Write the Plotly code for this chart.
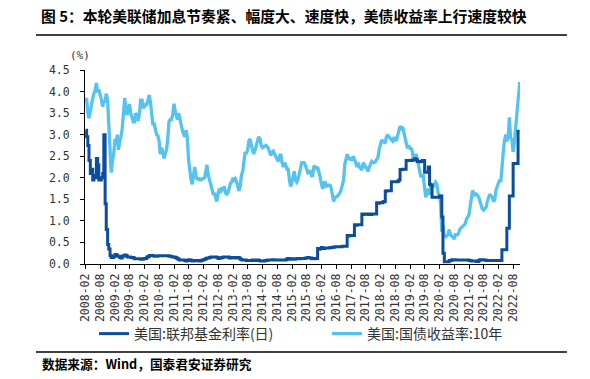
import pandas as pd
import plotly.graph_objects as go

# semi-monthly observation dates (1st and 15th of each month) + last observation
dates = [d.strftime("%Y-%m-%d") for d in pd.date_range("2008-02-01", "2022-10-15", freq="SMS")]
dates.append("2022-10-21")

# US 10Y Treasury yield (%)
y10_2008 = [3.75, 3.85, 3.50, 3.38, 3.55, 3.75, 3.85, 3.95, 4.05, 4.20, 3.98, 4.05, 3.95, 3.82, 3.65, 3.80, 3.75, 3.95, 3.80, 3.30, 2.70, 2.12]
y10_2009 = [2.40, 2.55, 2.90, 2.80, 3.00, 2.65, 2.85, 2.95, 3.15, 3.45, 3.85, 3.60, 3.45, 3.65, 3.70, 3.50, 3.40, 3.30, 3.30, 3.50, 3.45, 3.32, 3.50, 3.80]
y10_2010 = [3.80, 3.62, 3.65, 3.70, 3.70, 3.80, 3.92, 3.75, 3.50, 3.25, 3.25, 3.15, 3.00, 2.98, 2.85, 2.55, 2.70, 2.60, 2.45, 2.55, 2.65, 2.90, 3.30, 3.35]
y10_2011 = [3.35, 3.45, 3.72, 3.55, 3.45, 3.35, 3.50, 3.35, 3.20, 3.10, 3.00, 2.95, 3.10, 2.95, 2.40, 2.15, 1.95, 1.85, 2.05, 2.25, 2.05, 1.95, 2.00, 1.95]
y10_2012 = [1.95, 1.98, 1.98, 2.00, 2.15, 2.30, 2.05, 1.98, 1.85, 1.75, 1.60, 1.65, 1.55, 1.45, 1.65, 1.75, 1.65, 1.78, 1.70, 1.80, 1.65, 1.62, 1.65, 1.78]
y10_2013 = [1.88, 1.90, 2.00, 1.95, 1.98, 1.92, 1.78, 1.70, 1.80, 2.05, 2.15, 2.45, 2.60, 2.55, 2.65, 2.85, 2.90, 2.75, 2.65, 2.55, 2.65, 2.75, 2.85, 2.95]
y10_2014 = [2.90, 2.75, 2.70, 2.72, 2.72, 2.75, 2.72, 2.68, 2.58, 2.52, 2.60, 2.62, 2.55, 2.50, 2.45, 2.38, 2.50, 2.55, 2.35, 2.25, 2.35, 2.30, 2.20, 2.20]
y10_2015 = [1.95, 1.80, 1.90, 2.08, 2.15, 1.95, 1.90, 1.95, 2.15, 2.20, 2.35, 2.35, 2.35, 2.30, 2.20, 2.12, 2.15, 2.15, 2.05, 2.05, 2.28, 2.25, 2.22, 2.25]
y10_2016 = [2.15, 2.02, 1.85, 1.75, 1.85, 1.92, 1.78, 1.85, 1.80, 1.85, 1.75, 1.58, 1.45, 1.55, 1.55, 1.57, 1.60, 1.65, 1.72, 1.80, 1.95, 2.30, 2.40, 2.55]
y10_2017 = [2.42, 2.45, 2.42, 2.42, 2.50, 2.45, 2.35, 2.25, 2.35, 2.25, 2.20, 2.18, 2.35, 2.30, 2.25, 2.18, 2.15, 2.25, 2.35, 2.38, 2.35, 2.35, 2.38, 2.42]
y10_2018 = [2.48, 2.65, 2.80, 2.88, 2.85, 2.82, 2.80, 2.95, 3.00, 2.95, 2.92, 2.88, 2.85, 2.92, 2.92, 2.85, 2.95, 3.08, 3.20, 3.15, 3.18, 3.05, 2.92, 2.75]
y10_2019 = [2.68, 2.75, 2.68, 2.68, 2.62, 2.42, 2.52, 2.55, 2.45, 2.30, 2.10, 2.02, 2.05, 2.05, 1.75, 1.55, 1.65, 1.75, 1.60, 1.78, 1.85, 1.78, 1.85, 1.90]
y10_2020 = [1.85, 1.65, 1.60, 1.40, 0.75, 0.90, 0.65, 0.63, 0.65, 0.68, 0.80, 0.68, 0.65, 0.60, 0.58, 0.68, 0.68, 0.68, 0.75, 0.82, 0.85, 0.88, 0.92, 0.93]
y10_2021 = [1.05, 1.08, 1.15, 1.38, 1.55, 1.70, 1.65, 1.58, 1.62, 1.60, 1.55, 1.48, 1.35, 1.28, 1.25, 1.30, 1.32, 1.45, 1.55, 1.62, 1.58, 1.55, 1.45, 1.48]
y10_2022 = [1.72, 1.80, 1.92, 1.95, 1.90, 2.30, 2.60, 2.85, 3.00, 2.85, 2.95, 3.40, 2.90, 2.92, 2.60, 2.80, 3.25, 3.45, 3.80, 4.05, 4.22]

# US effective federal funds rate (%)
ff_2008 = [3.10, 2.95, 2.75, 2.40, 2.10, 2.20, 1.95, 2.05, 2.00, 2.45, 2.30, 1.95, 1.95, 2.00, 2.10, 3.00, 1.40, 0.80, 0.45, 0.35, 0.20, 0.15]
ff_2009 = [0.15, 0.18, 0.22, 0.21, 0.18, 0.18, 0.15, 0.14, 0.18, 0.19, 0.21, 0.20, 0.16, 0.16, 0.16, 0.15, 0.15, 0.14, 0.12, 0.12, 0.12, 0.12, 0.12, 0.11]
ff_2010 = [0.11, 0.12, 0.13, 0.13, 0.16, 0.17, 0.20, 0.20, 0.20, 0.19, 0.18, 0.18, 0.18, 0.19, 0.19, 0.19, 0.19, 0.19, 0.19, 0.19, 0.19, 0.19, 0.18, 0.18]
ff_2011 = [0.17, 0.16, 0.16, 0.15, 0.14, 0.12, 0.10, 0.09, 0.09, 0.09, 0.09, 0.08, 0.07, 0.08, 0.10, 0.09, 0.08, 0.07, 0.07, 0.08, 0.08, 0.08, 0.07, 0.07]
ff_2012 = [0.08, 0.09, 0.10, 0.11, 0.13, 0.14, 0.14, 0.15, 0.16, 0.16, 0.16, 0.16, 0.16, 0.15, 0.13, 0.14, 0.14, 0.15, 0.16, 0.16, 0.16, 0.16, 0.16, 0.14]
ff_2013 = [0.14, 0.15, 0.15, 0.15, 0.14, 0.14, 0.15, 0.14, 0.11, 0.10, 0.09, 0.09, 0.09, 0.08, 0.08, 0.08, 0.08, 0.08, 0.09, 0.09, 0.08, 0.08, 0.09, 0.08]
ff_2014 = [0.07, 0.07, 0.07, 0.07, 0.08, 0.08, 0.09, 0.09, 0.09, 0.09, 0.10, 0.10, 0.09, 0.09, 0.09, 0.09, 0.09, 0.09, 0.09, 0.09, 0.09, 0.10, 0.12, 0.13]
ff_2015 = [0.11, 0.12, 0.11, 0.12, 0.11, 0.12, 0.12, 0.13, 0.12, 0.13, 0.13, 0.13, 0.13, 0.14, 0.14, 0.15, 0.14, 0.14, 0.12, 0.13, 0.12, 0.13, 0.13, 0.36]
ff_2016 = [0.34, 0.36, 0.38, 0.37, 0.36, 0.37, 0.37, 0.37, 0.37, 0.38, 0.38, 0.39, 0.39, 0.40, 0.40, 0.40, 0.40, 0.40, 0.40, 0.41, 0.41, 0.41, 0.41, 0.66]
ff_2017 = [0.65, 0.66, 0.66, 0.66, 0.66, 0.91, 0.90, 0.91, 0.91, 0.91, 0.91, 1.16, 1.15, 1.16, 1.16, 1.16, 1.15, 1.16, 1.15, 1.16, 1.16, 1.16, 1.16, 1.42]
ff_2018 = [1.41, 1.42, 1.42, 1.42, 1.44, 1.45, 1.69, 1.70, 1.70, 1.70, 1.70, 1.91, 1.91, 1.91, 1.91, 1.91, 1.92, 1.95, 2.19, 2.19, 2.20, 2.20, 2.20, 2.40]
ff_2019 = [2.40, 2.40, 2.40, 2.40, 2.41, 2.41, 2.44, 2.42, 2.38, 2.38, 2.37, 2.38, 2.40, 2.40, 2.13, 2.13, 2.13, 2.25, 1.85, 1.83, 1.55, 1.55, 1.55, 1.55]
ff_2020 = [1.55, 1.55, 1.58, 1.58, 1.09, 0.25, 0.05, 0.05, 0.05, 0.05, 0.08, 0.08, 0.10, 0.09, 0.10, 0.09, 0.09, 0.09, 0.09, 0.09, 0.09, 0.09, 0.09, 0.09]
ff_2021 = [0.09, 0.09, 0.08, 0.08, 0.07, 0.07, 0.07, 0.07, 0.06, 0.06, 0.08, 0.10, 0.10, 0.10, 0.09, 0.09, 0.08, 0.08, 0.08, 0.08, 0.08, 0.08, 0.08, 0.08]
ff_2022 = [0.08, 0.08, 0.08, 0.08, 0.08, 0.33, 0.33, 0.33, 0.33, 0.83, 0.83, 1.58, 1.58, 1.58, 2.33, 2.33, 2.33, 2.33, 3.08, 3.08, 3.08]

y10 = (y10_2008 + y10_2009 + y10_2010 + y10_2011 + y10_2012 + y10_2013 + y10_2014 + y10_2015
       + y10_2016 + y10_2017 + y10_2018 + y10_2019 + y10_2020 + y10_2021 + y10_2022)
ff = (ff_2008 + ff_2009 + ff_2010 + ff_2011 + ff_2012 + ff_2013 + ff_2014 + ff_2015
      + ff_2016 + ff_2017 + ff_2018 + ff_2019 + ff_2020 + ff_2021 + ff_2022)

name_ff = "美国:联邦基金利率(日)"
name_10y = "美国:国债收益率:10年"
title_text = "<b>图 5：本轮美联储加息节奏紧、幅度大、速度快，美债收益率上行速度较快</b>"
source_text = "<b>数据来源：Wind，国泰君安证券研究</b>"
y_ticks = [0.0, 0.5, 1.0, 1.5, 2.0, 2.5, 3.0, 3.5, 4.0, 4.5]

C_DARK = "#0B4E9C"
C_LIGHT = "#55C3F0"
CJK = "Noto Sans CJK SC"
MONO = "DejaVu Sans Mono"

W, H = 590, 379
# plot area in page pixels
PL, PR, PT, PB = 85, 520, 70, 264

def px(x):
    return x / W

def py(y):
    return 1 - y / H

fig = go.Figure()
fig.add_trace(go.Scatter(x=dates, y=y10, mode="lines", name=name_10y,
                         line=dict(color=C_LIGHT, width=3.3), legend="legend2"))
fig.add_trace(go.Scatter(x=dates, y=ff, mode="lines", name=name_ff,
                         line=dict(color=C_DARK, width=3, shape="hv"), legend="legend"))

fig.update_layout(
    width=W, height=H,
    margin=dict(l=0, r=0, t=0, b=0),
    paper_bgcolor="white", plot_bgcolor="rgba(0,0,0,0)",
    font=dict(family=CJK, size=12, color="#222"),
    showlegend=True,
    legend=dict(x=px(94), y=py(334), xanchor="left", yanchor="middle",
                orientation="h", font=dict(family=CJK, size=14, color="#333"),
                bgcolor="rgba(0,0,0,0)", itemwidth=30),
    legend2=dict(x=px(327), y=py(334), xanchor="left", yanchor="middle",
                 orientation="h", font=dict(family=CJK, size=14, color="#333"),
                 bgcolor="rgba(0,0,0,0)", itemwidth=30),
    xaxis=dict(type="date", range=["2008-01-26", "2022-10-25"],
               domain=[PL / W, PR / W], anchor="y",
               tick0="2008-02-01", dtick="M6", tickformat="%Y-%m", tickangle=-90,
               ticks="outside", ticklen=4, tickcolor="#000", tickwidth=1,
               showline=True, linecolor="#000", linewidth=1,
               showgrid=False, zeroline=False, automargin=False,
               tickfont=dict(family=MONO, size=11.5, color="#333")),
    yaxis=dict(range=[0, 4.5], tickvals=y_ticks, tickformat=".1f",
               domain=[1 - PB / H, 1 - PT / H], anchor="x",
               ticks="outside", ticklen=4, tickcolor="#000", tickwidth=1,
               showline=True, linecolor="#000", linewidth=1,
               showgrid=False, zeroline=False, ticklabelstandoff=8, automargin=False,
               tickfont=dict(family=MONO, size=11.5, color="#333")),
    hovermode=False,
)

# separator rules (page decoration, paper coordinates inside [0, 1])
for yy in (35, 352):
    fig.add_shape(type="line", xref="paper", yref="paper", layer="above",
                  x0=px(36), x1=px(567), y0=py(yy), y1=py(yy),
                  line=dict(color="black", width=1.5))

fig.add_annotation(text=title_text, xref="paper", yref="paper", x=px(39), y=py(15),
                   xanchor="left", yanchor="middle", showarrow=False,
                   font=dict(family=CJK, size=14.8, color="#000"))
fig.add_annotation(text=source_text, xref="paper", yref="paper", x=px(40), y=py(363),
                   xanchor="left", yanchor="middle", showarrow=False,
                   font=dict(family=CJK, size=12.7, color="#000"))
fig.add_annotation(text="(%)", xref="paper", yref="paper", x=px(80), y=py(56),
                   xanchor="center", yanchor="middle", showarrow=False,
                   font=dict(family=MONO, size=11, color="#333"))

fig.write_html("out.html", config={"displayModeBar": False},
               post_script="document.body.style.margin='0';")
